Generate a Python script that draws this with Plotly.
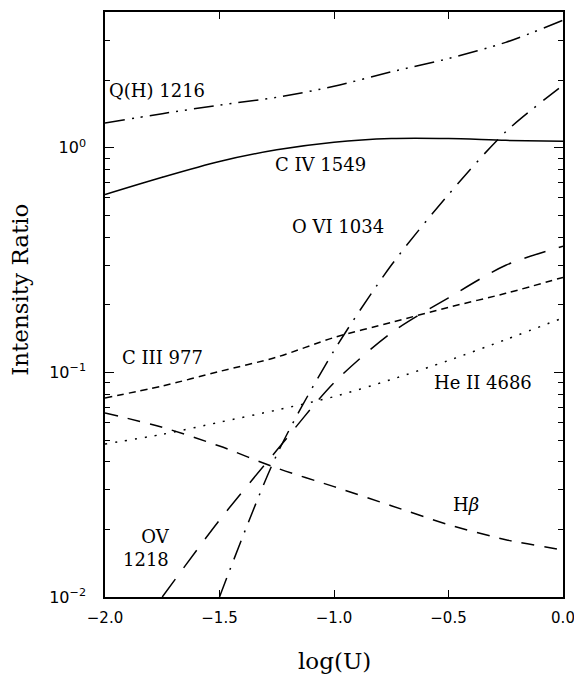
import plotly.graph_objects as go
import numpy as np

# log(U) grid
logU = [-2.0, -1.75, -1.5, -1.25, -1.0, -0.75, -0.5, -0.25, 0.0]

qh_1216 = [1.29, 1.42, 1.55, 1.68, 1.88, 2.18, 2.50, 2.95, 3.70]
civ_1549 = [0.62, 0.74, 0.87, 0.98, 1.06, 1.10, 1.10, 1.08, 1.07]
ciii_977 = [0.077, 0.087, 0.101, 0.117, 0.143, 0.167, 0.195, 0.225, 0.265]
heii_4686 = [0.048, 0.053, 0.060, 0.068, 0.078, 0.093, 0.113, 0.140, 0.175]
hbeta = [0.066, 0.057, 0.047, 0.0375, 0.031, 0.0255, 0.021, 0.018, 0.0162]

logU_ovi = [-1.5, -1.25, -1.0, -0.75, -0.5, -0.25, 0.0]
ovi_1034 = [0.0100, 0.043, 0.125, 0.30, 0.62, 1.18, 1.90]

logU_ov = [-1.75, -1.5, -1.25, -1.0, -0.75, -0.5, -0.25, 0.0]
ov_1218 = [0.0100, 0.022, 0.045, 0.090, 0.150, 0.215, 0.300, 0.365]

x_ticks = [-2.0, -1.5, -1.0, -0.5, 0.0]
x_ticktext = ["\u22122.0", "\u22121.5", "\u22121.0", "\u22120.5", "0.0"]
y_ticks = [0.01, 0.1, 1.0]
y_ticktext = ["10<sup>\u22122</sup>", "10<sup>\u22121</sup>", "10<sup>0</sup>"]

series = [
    (logU, qh_1216, "Q(H) 1216", "20px,7px,2px,7px,2px,7px"),
    (logU, civ_1549, "C IV 1549", "solid"),
    (logU_ovi, ovi_1034, "O VI 1034", "20px,9px,2px,9px"),
    (logU_ov, ov_1218, "OV 1218", "22px,14px"),
    (logU, ciii_977, "C III 977", "7px,5px"),
    (logU, heii_4686, "He II 4686", "2px,8px"),
    (logU, hbeta, "H\u03b2", "13px,10px"),
]

fig = go.Figure()
for xs, ys, name, dash in series:
    fig.add_trace(go.Scatter(x=xs, y=ys, mode="lines", name=name,
                             line=dict(color="black", width=1.5, dash=dash, shape="spline", smoothing=0.8),
                             showlegend=False, hoverinfo="skip"))

lab_font = dict(family="DejaVu Serif", size=18, color="black")
annos = [
    ("Q(H) 1216", -1.99, 1.81, "left"),
    ("C IV 1549", -1.266, 0.84, "left"),
    ("O VI 1034", -1.192, 0.445, "left"),
    ("C III 977", -1.934, 0.117, "left"),
    ("He II 4686", -0.572, 0.090, "left"),
]
for text, xv, yv, anc in annos:
    fig.add_annotation(x=xv, y=np.log10(yv), text=text, showarrow=False, xanchor=anc,
                       yanchor="middle", font=lab_font)
fig.add_annotation(x=-1.707, y=np.log10(0.0165), text="OV<br>1218", showarrow=False,
                   xanchor="right", yanchor="middle", align="right", font=lab_font)
fig.add_annotation(x=-0.424, y=np.log10(0.0259), text="H<i>\u03b2</i>", showarrow=False,
                   xanchor="center", yanchor="middle", font=lab_font)

# axis titles as annotations for precise placement
fig.add_annotation(xref="paper", yref="paper", x=-0.1856, y=0.525, text="Intensity Ratio",
                   textangle=-90, showarrow=False, xanchor="center", yanchor="middle",
                   font=dict(family="DejaVu Serif", size=23, color="black"))
fig.add_annotation(xref="paper", yref="paper", x=0.5, y=-0.1094, text="log(U)",
                   showarrow=False, xanchor="center", yanchor="middle",
                   font=dict(family="DejaVu Serif", size=23, color="black"))

axis_common = dict(showline=True, linecolor="black", linewidth=1.5, mirror="ticks",
                   ticks="inside", tickcolor="black", showgrid=False, zeroline=False,
                   automargin=False, ticklabeloverflow="allow")

fig.update_xaxes(range=[-2.0, 0.0], tickvals=x_ticks, ticktext=x_ticktext,
                 ticklen=7, tickwidth=1.2, ticklabelstandoff=6,
                 tickfont=dict(family="DejaVu Sans", size=15, color="black"),
                 **axis_common)
fig.update_yaxes(type="log", range=[-2.0, 0.605], tickvals=y_ticks, ticktext=y_ticktext,
                 ticklen=9, tickwidth=1.2, ticklabelstandoff=14,
                 minor=dict(ticks="inside", ticklen=5, tickcolor="black", tickwidth=1.0,
                            tickvals=[v * m for v in [0.01, 0.1, 1.0] for m in range(2, 10) if v * m < 4.1]),
                 tickfont=dict(family="DejaVu Sans", size=16, color="black"),
                 **axis_common)

fig.update_layout(width=574, height=677, margin=dict(l=105, r=11, t=12, b=80),
                  plot_bgcolor="white", paper_bgcolor="white")

fig.write_html("out.html", config={"displayModeBar": False},
               post_script="document.body.style.margin='0';document.body.style.overflow='hidden';")
